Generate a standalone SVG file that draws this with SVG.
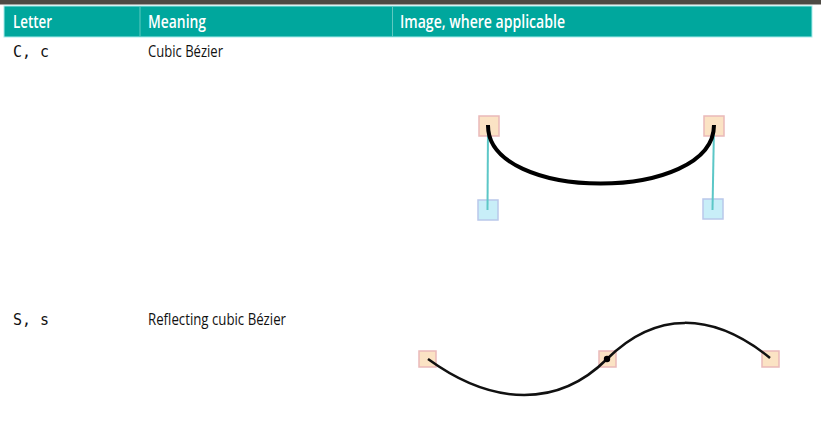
<svg xmlns="http://www.w3.org/2000/svg" width="821" height="434" viewBox="0 0 821 434">
<style>
.hd{font-family:"Open Sans","Liberation Sans",Arial,sans-serif;font-weight:600;font-size:18px;fill:#ffffff}
.tx{font-family:"Open Sans","Liberation Sans",Arial,sans-serif;font-weight:500;font-size:16px;fill:#111111}
.mono{font-family:"DejaVu Sans Mono","Liberation Mono",monospace;font-size:15px;fill:#111111}
.pt{fill:#fbe3c4;stroke:#eab9b9;stroke-width:1.5}
.cp{fill:#c8eef8;stroke:#b9c8ea;stroke-width:1.5}
.handle{stroke:#5cc7c7;stroke-width:2;fill:none}
</style>
<rect x="0" y="0" width="821" height="434" fill="#ffffff"/>
<g id="header">
<rect x="0" y="0" width="821" height="4.5" fill="#4d4a44"/>
<rect x="4" y="6" width="808" height="31" fill="#00a79d" stroke="#a8ecec" stroke-width="1"/>
<line x1="140" y1="6" x2="140" y2="37" stroke="#5fc9c0" stroke-width="1"/>
<line x1="392.5" y1="6" x2="392.5" y2="37" stroke="#5fc9c0" stroke-width="1"/>
<text class="hd" x="13" y="27.5" textLength="39" lengthAdjust="spacingAndGlyphs">Letter</text>
<text class="hd" x="148" y="27.5" textLength="58" lengthAdjust="spacingAndGlyphs">Meaning</text>
<text class="hd" x="400" y="27.5" textLength="165" lengthAdjust="spacingAndGlyphs">Image, where applicable</text>
</g>
<g id="row-c">
<text class="mono" x="13" y="57">C, c</text>
<text class="tx" x="148" y="56.5" textLength="75" lengthAdjust="spacingAndGlyphs">Cubic Bézier</text>
</g>
<g id="cubic-image">
<rect class="pt" x="479" y="116" width="20" height="20"/>
<rect class="pt" x="704" y="116" width="20" height="20"/>
<rect class="cp" x="478" y="200" width="20" height="20"/>
<rect class="cp" x="703" y="199" width="20" height="20"/>
<line class="handle" x1="488" y1="126" x2="487.5" y2="210"/>
<line class="handle" x1="714" y1="126" x2="712.5" y2="210"/>
<path d="M488,125 C487,203 714,203 714,125" fill="none" stroke="#000000" stroke-width="4"/>
</g>
<g id="row-s">
<text class="mono" x="13" y="325">S, s</text>
<text class="tx" x="148" y="324.5" textLength="138" lengthAdjust="spacingAndGlyphs">Reflecting cubic Bézier</text>
</g>
<g id="reflect-image">
<rect class="pt" x="419" y="351" width="17" height="16"/>
<rect class="pt" x="599" y="351" width="17" height="16"/>
<rect class="pt" x="762" y="351" width="17" height="16"/>
<path d="M428,359 C494,407 559,407 607,359 S712,311 770,358" fill="none" stroke="#111111" stroke-width="2.5"/>
<circle cx="607" cy="359" r="3.2" fill="#000000"/>
</g>
</svg>
